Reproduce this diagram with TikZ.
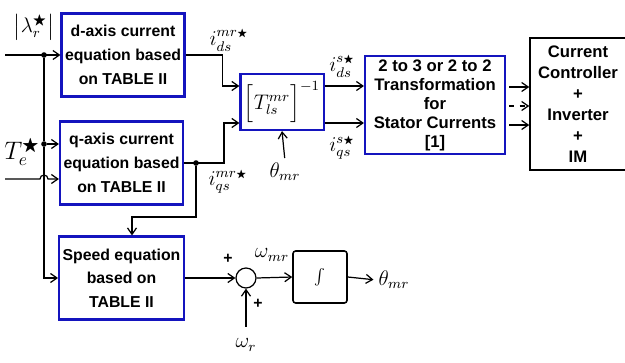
\documentclass[tikz,border=0pt]{standalone}
\usepackage{amsmath,amssymb}
\usepackage{fontspec}
\setmainfont{Liberation Sans}
\usetikzlibrary{arrows.meta,calc}
\definecolor{boxblue}{RGB}{20,20,190}

\begin{document}
\begin{tikzpicture}[
  x=0.02cm, y=-0.02cm,
  font=\fontsize{9}{13.5}\selectfont\bfseries,
  box/.style={draw, align=center, inner sep=2pt},
  eqn/.style={box, draw=boxblue, line width=1.2pt, minimum width=2.46cm, minimum height=1.66cm},
  ctrlbox/.style={box, line width=0.9pt},
  sig/.style={-{Straight Barb[length=1.3mm,width=1.8mm]}, line width=0.7pt},
  wire/.style={line width=0.7pt},
  dot/.style={circle, fill, inner sep=0pt, minimum size=3.2pt},
  lbl/.style={font=\large, inner sep=1pt}
]
\clip (0,0) rectangle (625,362);
% blocks
\node[eqn] (dcur) at (123,55) {d-axis current\\equation based\\on TABLE II};
\node[eqn] (qcur) at (121.5,163) {q-axis current\\equation based\\on TABLE II};
\node[eqn] (speed) at (121.5,278) {Speed equation\\based on\\TABLE II};
\node[box, draw=boxblue, line width=1.2pt, minimum width=1.4cm, minimum height=1.12cm, font=\large] (tinv) at (282,102) {$\Bigl[T_{ls}^{mr}\Bigr]^{-1}$};
\node[box, draw=boxblue, line width=1.2pt, minimum width=2.8cm, minimum height=1.96cm, font=\fontsize{9.5}{10.8}\selectfont\bfseries] (xform) at (435,105) {2 to 3 or 2 to 2\\Transformation\\for\\Stator Currents\\{[1]}};
\node[ctrlbox, minimum width=1.92cm, minimum height=2.64cm, font=\fontsize{9.5}{12}\selectfont\bfseries] (ctrl) at (578,104) {Current\\Controller\\+\\Inverter\\+\\IM};
\node[draw, circle, line width=0.7pt, minimum size=0.4cm, inner sep=0pt] (sum) at (246,278) {};
\node[ctrlbox, rounded corners=1.5pt, minimum width=1.08cm, minimum height=1.04cm] (integ) at (320,277) {$\int$};

% labels
\node[lbl] (lamref) at (34,27) {$\bigl|\lambda_r^{\bigstar}\bigr|$};
\node[lbl, font=\Large] (teref) at (22,152) {$T_e^{\bigstar}$};
\node[lbl] (idsr) at (229,40) {$i_{ds}^{mr\scriptscriptstyle\bigstar}$};
\node[lbl] (iqsr) at (228,182) {$i_{qs}^{mr\scriptscriptstyle\bigstar}$};
\node[lbl] (idss) at (342,66) {$i_{ds}^{s\scriptscriptstyle\bigstar}$};
\node[lbl] (iqss) at (342,148) {$i_{qs}^{s\scriptscriptstyle\bigstar}$};
\node[lbl] (thin) at (285,172) {$\theta_{mr}$};
\node[lbl] (wmr) at (272,255) {$\omega_{mr}$};
\node[lbl] (wr) at (246,345) {$\omega_r$};
\node[lbl] (thout) at (394,280) {$\theta_{mr}$};
\node[font=\small\bfseries] (plus1) at (228,259) {+};
\node[font=\small\bfseries] (plus2) at (258,304) {+};

% junctions and levels
\coordinate (lamin) at (5,55);
\coordinate (tein) at (5,179);
\node[dot] (j1) at (44,55) {};
\node[dot] (j2) at (44,144) {};
\node[dot] (j3) at (196,163) {};
\coordinate (hi) at (0,86);
\coordinate (lo) at (0,123);
\coordinate (c1) at (0,87);
\coordinate (c2) at (0,106);
\coordinate (c3) at (0,125);

% connections
\draw[sig] (lamin) -- (dcur.west |- lamin);
\draw[wire] (j1) -- (j2);
\draw[sig] (j2) -- (qcur.west |- j2);
\draw[sig] (j2) |- (speed.west);
\draw[sig] (tein) -- ($(j2 |- tein)+(-4,0)$) arc[start angle=180, end angle=0, radius=0.08cm] -- (qcur.west |- tein);
\draw[sig] (dcur.east) -- ++(37,0) |- (tinv.west |- hi);
\draw[sig] (qcur.east) -- ++(40,0) |- (tinv.west |- lo);
\draw[sig] (j3) -- ++(0,54) -| ([xshift=0.21cm]speed.north);
\draw[sig] (tinv.east |- hi) -- (xform.west |- hi);
\draw[sig] (tinv.east |- lo) -- (xform.west |- lo);
\draw[sig, shorten <=0.06cm] (thin.north) -- (tinv.south);
\draw[sig, shorten <=0.06cm] (xform.east |- c1) -- (ctrl.west |- c1);
\draw[sig, dashed, shorten <=0.06cm] (xform.east |- c2) -- (ctrl.west |- c2);
\draw[sig, shorten <=0.06cm] (xform.east |- c3) -- (ctrl.west |- c3);
\draw[sig] (speed.east) -- (sum.west);
\draw[sig, shorten <=0.2cm] (wr.north) -- (sum.south);
\draw[sig] (sum.east) -- (integ.west);
\draw[sig, shorten >=0.06cm] (integ.east) -- (thout.west);
\end{tikzpicture}
\end{document}
